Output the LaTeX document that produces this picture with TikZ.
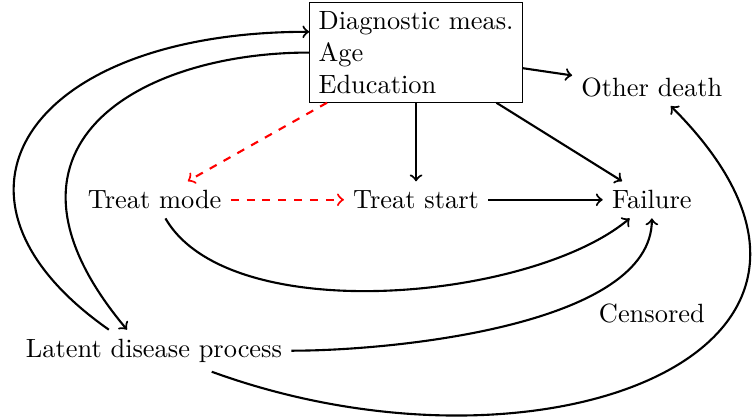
\documentclass[tikz,border=0pt]{standalone}
\begin{document}
\begin{tikzpicture}
  \useasboundingbox (0,0) rectangle (10.04,5.55);
  \tikzset{arr/.style={->,thick}, redarr/.style={->,thick,dashed,red}}
  \node[draw,align=left] (base) at (5.54,4.85) {Diagnostic meas.\\Age\\Education};
  \node (oth) at (8.68,4.39) {Other death};
  \node (tm) at (2.06,2.89) {Treat mode};
  \node (ts) at (5.54,2.89) {Treat start};
  \node (fail) at (8.68,2.89) {Failure};
  \node (lat) at (2.05,0.88) {Latent disease process};
  \node (cens) at (8.68,1.38) {Censored};

  \draw[arr] (base) -- (oth);
  \draw[arr] (base) -- (ts);
  \draw[arr] (base) -- (fail);
  \draw[arr] (ts) -- (fail);
  \draw[redarr] (base) -- (tm);
  \draw[redarr] (tm) -- (ts);
  \draw[arr] (tm) to[out=-60,in=-140,distance=1.7cm] (fail);
  \draw[arr] (lat) to[out=0,in=-90,distance=1.41cm] (fail);
  \draw[arr] (lat) to[out=-20,in=-45,out distance=4.7cm,in distance=4.6cm] (oth);
  \draw[arr] (base.west) to[out=180,in=130,out distance=2.26cm,in distance=3.19cm] (lat.142);
  \draw[arr] (lat.155) to[out=145,in=180,out distance=3.1cm,in distance=3.73cm] (base.169);
\end{tikzpicture}
\end{document}
